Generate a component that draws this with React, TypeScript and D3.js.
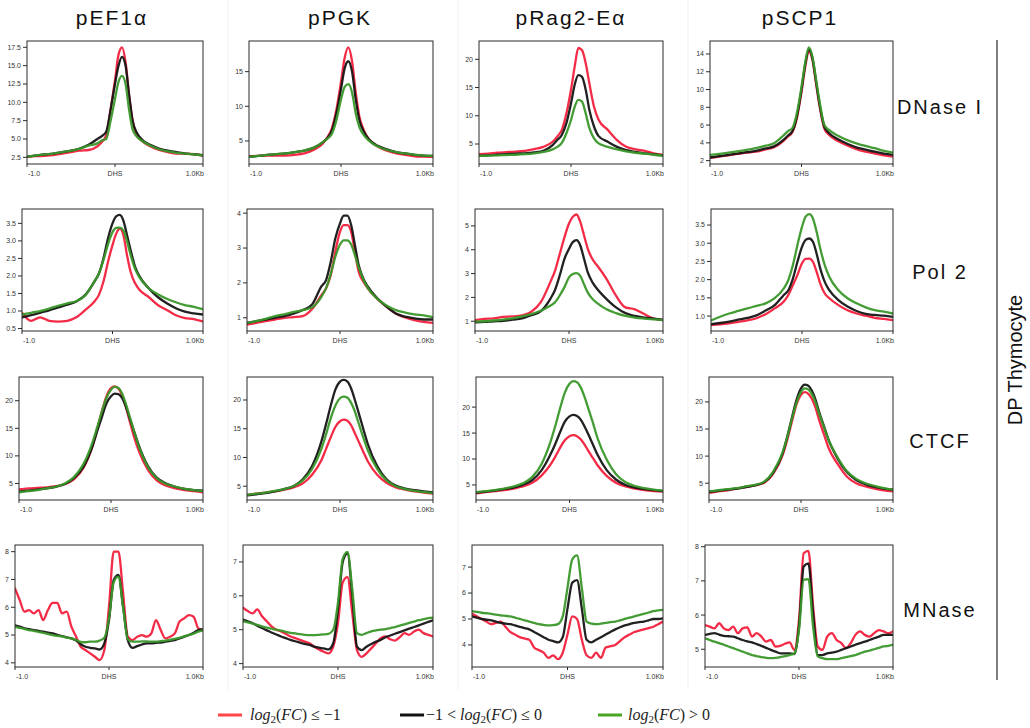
import React from 'react';
import * as d3 from 'd3';

// ---------- labels ----------
const PROMOTERS = ['pEF1α', 'pPGK', 'pRag2-Eα', 'pSCP1'];
const MARKS = ['DNase I', 'Pol 2', 'CTCF', 'MNase'];
const SIDE_LABEL = 'DP Thymocyte';
const X_TICKS = [-1, 0, 1];
const X_TICK_LABELS = ['-1.0', 'DHS', '1.0Kb'];

// ---------- x grids (kb from DHS) ----------
const XS = [-1.0, -0.9, -0.8, -0.7, -0.6, -0.5, -0.4, -0.3, -0.2, -0.15, -0.1, -0.05, 0.0, 0.04, 0.08, 0.12, 0.16, 0.2, 0.25, 0.3, 0.4, 0.5, 0.6, 0.7, 0.8, 0.9, 1.0];
const XM = [-1.0, -0.95, -0.9, -0.85, -0.8, -0.75, -0.7, -0.65, -0.6, -0.55, -0.5, -0.45, -0.4, -0.35, -0.3, -0.25, -0.2, -0.15, -0.1, -0.05, 0.0, 0.05, 0.1, 0.15, 0.2, 0.25, 0.3, 0.35, 0.4, 0.45, 0.5, 0.55, 0.6, 0.65, 0.7, 0.75, 0.8, 0.85, 0.9, 0.95, 1.0];

// ---------- DNase I ----------
const dnase_pEF1a_red = [2.55, 2.65, 2.7, 2.8, 3.0, 3.2, 3.4, 3.5, 4.0, 4.6, 5.5, 9, 13, 16.5, 17.5, 15.5, 11, 7.5, 5.5, 4.8, 4.0, 3.5, 3.2, 3.0, 3.0, 2.95, 2.7];
const dnase_pEF1a_black = [2.6, 2.75, 2.9, 3.0, 3.2, 3.4, 3.7, 4.2, 5.0, 5.4, 6.0, 9.0, 12.5, 15.0, 16.2, 15.0, 11.0, 7.5, 5.8, 5.0, 4.2, 3.7, 3.4, 3.2, 3.0, 2.9, 2.8];
const dnase_pEF1a_green = [2.6, 2.75, 2.9, 3.0, 3.2, 3.4, 3.7, 4.1, 4.4, 4.8, 5.0, 7.5, 10.5, 12.8, 13.6, 12.5, 9.0, 6.3, 5.3, 4.8, 4.1, 3.6, 3.3, 3.1, 3.0, 2.9, 2.75];

const dnase_pPGK_red = [2.8, 2.85, 2.9, 2.9, 2.9, 3.0, 3.2, 3.7, 4.6, 5.5, 6.8, 9.5, 13.5, 17.0, 18.5, 16.5, 12.0, 8.5, 6.5, 5.3, 4.2, 3.6, 3.2, 3.0, 2.8, 2.75, 2.7];
const dnase_pPGK_black = [2.7, 2.85, 3.0, 3.1, 3.2, 3.4, 3.6, 4.0, 4.8, 5.4, 6.5, 9.0, 12.5, 15.5, 16.5, 15.0, 11.0, 8.0, 6.3, 5.3, 4.3, 3.8, 3.4, 3.2, 3.0, 2.9, 2.85];
const dnase_pPGK_green = [2.7, 2.85, 3.0, 3.1, 3.2, 3.4, 3.6, 4.0, 4.8, 5.3, 6.0, 8.0, 11.0, 12.8, 13.2, 12.0, 9.0, 7.0, 5.8, 5.1, 4.2, 3.7, 3.4, 3.2, 3.0, 2.9, 2.85];

const dnase_pRag2_red = [3.2, 3.3, 3.45, 3.55, 3.65, 3.8, 4.1, 4.5, 5.4, 6.3, 7.5, 10.4, 14.6, 18.7, 22.0, 21.6, 19.3, 15.7, 11.6, 9.3, 7.5, 5.7, 4.5, 4.05, 3.8, 3.35, 3.05];
const dnase_pRag2_black = [2.9, 3.0, 3.1, 3.2, 3.3, 3.35, 3.5, 3.8, 4.8, 5.7, 6.6, 8.7, 12.2, 15.5, 17.2, 16.9, 14.6, 11.0, 8.1, 6.4, 5.4, 4.5, 3.9, 3.6, 3.35, 3.15, 3.0];
const dnase_pRag2_green = [2.9, 2.95, 3.0, 3.05, 3.1, 3.2, 3.35, 3.6, 4.05, 4.5, 5.2, 6.9, 9.25, 11.6, 12.8, 12.5, 10.4, 7.8, 6.0, 5.1, 4.5, 4.05, 3.7, 3.45, 3.3, 3.1, 2.95];

const dnase_pSCP1_red = [2.3, 2.45, 2.6, 2.75, 2.9, 3.0, 3.25, 3.5, 4.2, 4.7, 5.2, 6.8, 9.7, 12.5, 14.3, 13.3, 10.6, 8.0, 5.6, 4.9, 4.2, 3.7, 3.3, 3.0, 2.8, 2.6, 2.45];
const dnase_pSCP1_black = [2.35, 2.5, 2.65, 2.8, 2.95, 3.1, 3.35, 3.6, 4.3, 4.8, 5.3, 7.0, 10.0, 12.8, 14.5, 13.5, 10.8, 8.2, 5.8, 5.1, 4.4, 3.9, 3.5, 3.25, 3.0, 2.8, 2.65];
const dnase_pSCP1_green = [2.64, 2.75, 2.9, 3.05, 3.2, 3.4, 3.65, 3.95, 4.8, 5.3, 5.65, 7.35, 10.3, 13.0, 14.75, 13.7, 11.1, 8.5, 6.0, 5.45, 4.8, 4.3, 3.95, 3.65, 3.4, 3.1, 2.9];

// ---------- Pol 2 ----------
const pol2_pEF1a_red = [0.95, 0.72, 0.82, 0.72, 0.7, 0.72, 0.82, 1.03, 1.27, 1.46, 1.84, 2.4, 2.88, 3.2, 3.35, 3.17, 2.6, 2.12, 1.79, 1.6, 1.4, 1.17, 1.03, 0.88, 0.8, 0.77, 0.7];
const pol2_pEF1a_black = [0.82, 0.88, 0.95, 1.02, 1.1, 1.18, 1.27, 1.46, 1.84, 2.07, 2.5, 3.07, 3.5, 3.7, 3.74, 3.58, 3.17, 2.74, 2.26, 1.98, 1.65, 1.4, 1.22, 1.08, 0.98, 0.93, 0.9];
const pol2_pEF1a_green = [0.9, 0.95, 1.0, 1.07, 1.15, 1.22, 1.28, 1.45, 1.85, 2.07, 2.45, 2.9, 3.25, 3.37, 3.38, 3.3, 3.0, 2.6, 2.2, 1.95, 1.65, 1.48, 1.35, 1.25, 1.17, 1.12, 1.05];

const pol2_pPGK_red = [0.8, 0.85, 0.9, 0.95, 1.0, 1.02, 1.05, 1.25, 1.65, 1.84, 2.22, 2.9, 3.47, 3.66, 3.66, 3.47, 2.9, 2.33, 2.04, 1.84, 1.55, 1.32, 1.12, 1.01, 0.93, 0.88, 0.85];
const pol2_pPGK_black = [0.85, 0.9, 0.95, 1.0, 1.05, 1.12, 1.22, 1.38, 1.9, 2.08, 2.6, 3.28, 3.71, 3.93, 3.93, 3.66, 3.09, 2.52, 2.13, 1.89, 1.56, 1.32, 1.12, 1.03, 0.98, 0.95, 0.95];
const pol2_pPGK_green = [0.85, 0.9, 0.97, 1.05, 1.1, 1.17, 1.22, 1.3, 1.6, 1.85, 2.25, 2.75, 3.1, 3.22, 3.22, 3.1, 2.8, 2.45, 2.1, 1.85, 1.55, 1.35, 1.22, 1.15, 1.1, 1.07, 1.02];

const pol2_pRag2_red = [1.05, 1.1, 1.12, 1.18, 1.2, 1.25, 1.4, 1.8, 2.63, 3.1, 3.8, 4.5, 5.1, 5.38, 5.48, 5.17, 4.6, 4.04, 3.6, 3.34, 2.77, 2.07, 1.58, 1.5, 1.3, 1.11, 1.06];
const pol2_pRag2_black = [0.95, 0.97, 1.0, 1.02, 1.07, 1.12, 1.25, 1.42, 1.93, 2.3, 2.9, 3.6, 4.04, 4.32, 4.4, 4.18, 3.62, 3.05, 2.63, 2.35, 1.93, 1.58, 1.34, 1.22, 1.15, 1.11, 1.05];
const pol2_pRag2_green = [0.98, 1.0, 1.03, 1.07, 1.12, 1.2, 1.3, 1.44, 1.65, 1.79, 2.07, 2.42, 2.84, 2.98, 3.02, 2.9, 2.55, 2.2, 1.93, 1.76, 1.5, 1.34, 1.22, 1.15, 1.11, 1.08, 1.05];

const pol2_pSCP1_red = [0.75, 0.77, 0.8, 0.84, 0.88, 0.94, 1.05, 1.21, 1.4, 1.58, 1.85, 2.13, 2.45, 2.57, 2.58, 2.49, 2.22, 1.9, 1.62, 1.49, 1.3, 1.16, 1.07, 1.01, 0.95, 0.92, 0.89];
const pol2_pSCP1_black = [0.78, 0.81, 0.85, 0.9, 0.95, 1.02, 1.15, 1.3, 1.58, 1.71, 2.03, 2.49, 2.9, 3.09, 3.13, 3.04, 2.72, 2.31, 1.94, 1.71, 1.44, 1.26, 1.14, 1.06, 1.03, 1.01, 0.98];
const pol2_pSCP1_green = [0.88, 0.98, 1.07, 1.14, 1.21, 1.28, 1.35, 1.49, 1.76, 1.99, 2.4, 2.95, 3.45, 3.73, 3.8, 3.68, 3.32, 2.86, 2.4, 2.08, 1.71, 1.49, 1.35, 1.24, 1.16, 1.12, 1.07];

// ---------- CTCF ----------
const ctcf_pEF1a_red = [3.9, 4.1, 4.2, 4.3, 4.5, 4.9, 5.8, 7.8, 11.8, 14.8, 18, 20.8, 22.3, 22.6, 22.2, 21, 19, 16.5, 13.5, 11, 7.5, 5.5, 4.6, 4.1, 3.8, 3.6, 3.4];
const ctcf_pEF1a_black = [3.5, 3.7, 3.9, 4.1, 4.4, 4.9, 6.0, 8.0, 11.8, 14.5, 17, 19.5, 20.8, 21.3, 21.2, 20.5, 19, 17, 14.5, 12, 8.2, 6.0, 5.0, 4.4, 4.0, 3.8, 3.7];
const ctcf_pEF1a_green = [3.4, 3.6, 3.8, 4.1, 4.4, 5.0, 6.2, 8.5, 12.5, 15.2, 18, 20.5, 22, 22.5, 22.3, 21.3, 19.5, 17.3, 14.5, 11.8, 8.0, 5.9, 4.9, 4.4, 4.0, 3.8, 3.6];

const ctcf_pPGK_red = [3.5, 3.7, 3.9, 4.1, 4.4, 4.8, 5.5, 7.0, 9.5, 11.5, 13.5, 15.3, 16.3, 16.6, 16.4, 15.6, 14.2, 12.8, 11, 9.3, 7.0, 5.6, 4.8, 4.4, 4.1, 3.9, 3.7];
const ctcf_pPGK_black = [3.4, 3.6, 3.8, 4.1, 4.5, 5.0, 6.2, 8.5, 12.8, 15.8, 19, 21.8, 23.2, 23.5, 23.2, 22, 20, 17.8, 15, 12.3, 8.5, 6.2, 5.1, 4.6, 4.3, 4.1, 3.9];
const ctcf_pPGK_green = [3.5, 3.7, 3.9, 4.2, 4.5, 5.0, 6.0, 8.0, 11.5, 14, 16.8, 19, 20.3, 20.6, 20.4, 19.5, 18, 16, 13.5, 11.2, 8.0, 6.0, 5.0, 4.5, 4.2, 4.0, 3.8];

const ctcf_pRag2_red = [3.4, 3.6, 3.8, 4.0, 4.3, 4.7, 5.4, 6.8, 9.0, 10.5, 12.2, 13.6, 14.4, 14.6, 14.4, 13.8, 12.8, 11.6, 10.2, 8.8, 6.7, 5.4, 4.7, 4.3, 4.0, 3.8, 3.7];
const ctcf_pRag2_black = [3.5, 3.7, 3.9, 4.2, 4.5, 5.0, 5.9, 7.8, 11, 13, 15.2, 17.2, 18.2, 18.5, 18.3, 17.6, 16.3, 14.8, 12.8, 10.8, 7.8, 6.0, 5.0, 4.5, 4.2, 4.0, 3.8];
const ctcf_pRag2_green = [3.6, 3.8, 4.0, 4.3, 4.7, 5.3, 6.5, 9, 13.5, 16.5, 19.8, 22.8, 24.5, 25, 24.8, 23.8, 22, 19.8, 17, 14, 9.8, 7.0, 5.5, 4.8, 4.4, 4.1, 3.9];

const ctcf_pSCP1_red = [3.2, 3.5, 3.7, 4.0, 4.3, 4.6, 5.1, 6.8, 10.2, 13, 16.3, 19.5, 21.3, 21.8, 21.5, 20.5, 18.8, 16.5, 14, 11.5, 8.5, 6.2, 5.0, 4.4, 4.0, 3.7, 3.5];
const ctcf_pSCP1_black = [3.4, 3.6, 3.8, 4.0, 4.3, 4.6, 5.2, 7.0, 10.5, 13.5, 17, 20.3, 22.5, 23.2, 23.0, 22, 20.3, 18, 15.5, 13, 9.5, 7.0, 5.6, 4.8, 4.3, 4.0, 3.8];
const ctcf_pSCP1_green = [3.5, 3.7, 3.9, 4.1, 4.4, 4.7, 5.3, 7.2, 10.7, 13.5, 16.8, 19.8, 21.8, 22.5, 22.3, 21.4, 19.8, 17.7, 15.3, 13, 9.7, 7.2, 5.8, 5.0, 4.5, 4.1, 3.8];

// ---------- MNase ----------
const mnase_pEF1a_red = [6.68, 6.26, 5.84, 5.9, 5.78, 5.9, 5.54, 5.9, 6.16, 6.16, 5.78, 5.84, 5.3, 4.94, 4.58, 4.46, 4.34, 4.22, 4.1, 4.46, 6.02, 8.0, 8.0, 6.5, 4.94, 4.82, 4.94, 5.0, 4.94, 5.06, 5.54, 5.18, 4.88, 4.94, 5.06, 5.48, 5.6, 5.72, 5.66, 5.24, 5.18];
const mnase_pEF1a_black = [5.35, 5.3, 5.24, 5.21, 5.18, 5.15, 5.12, 5.09, 5.06, 5.01, 4.96, 4.92, 4.88, 4.8, 4.67, 4.58, 4.54, 4.52, 4.48, 4.7, 5.54, 6.98, 7.16, 6.02, 4.82, 4.54, 4.6, 4.66, 4.7, 4.7, 4.72, 4.73, 4.76, 4.79, 4.82, 4.88, 4.94, 5.0, 5.08, 5.18, 5.2];
const mnase_pEF1a_green = [5.3, 5.26, 5.22, 5.18, 5.15, 5.11, 5.08, 5.04, 5.0, 4.97, 4.95, 4.91, 4.88, 4.82, 4.75, 4.74, 4.76, 4.76, 4.8, 4.9, 5.6, 6.9, 7.1, 6.0, 4.85, 4.76, 4.76, 4.77, 4.77, 4.76, 4.76, 4.78, 4.8, 4.83, 4.86, 4.9, 4.95, 5.0, 5.05, 5.12, 5.17];

const mnase_pPGK_red = [5.65, 5.55, 5.48, 5.6, 5.4, 5.25, 5.1, 5.0, 4.95, 4.88, 4.8, 4.75, 4.7, 4.65, 4.6, 4.5, 4.42, 4.35, 4.3, 4.5, 5.2, 6.4, 6.55, 5.5, 4.4, 4.2, 4.3, 4.45, 4.6, 4.75, 4.8, 4.72, 4.68, 4.78, 4.9, 4.85, 4.95, 5.0, 4.9, 4.85, 4.8];
const mnase_pPGK_black = [5.3, 5.25, 5.2, 5.12, 5.05, 4.98, 4.92, 4.86, 4.8, 4.75, 4.7, 4.66, 4.62, 4.58, 4.55, 4.5, 4.47, 4.45, 4.42, 4.6, 5.6, 7.0, 7.25, 6.0, 4.5, 4.4, 4.5, 4.58, 4.65, 4.7, 4.78, 4.83, 4.88, 4.93, 4.98, 5.03, 5.08, 5.13, 5.18, 5.23, 5.28];
const mnase_pPGK_green = [5.25, 5.22, 5.18, 5.14, 5.1, 5.06, 5.03, 5.0, 4.97, 4.94, 4.91, 4.89, 4.87, 4.85, 4.84, 4.84, 4.85, 4.86, 4.88, 5.0, 5.8, 7.1, 7.3, 6.2, 4.9, 4.85, 4.9, 4.95, 4.98, 5.0, 5.02, 5.05, 5.08, 5.12, 5.16, 5.2, 5.24, 5.28, 5.31, 5.34, 5.36];

const mnase_pRag2_red = [5.2, 5.1, 5.0, 4.9, 4.8, 4.85, 4.9, 4.7, 4.5, 4.4, 4.3, 4.25, 4.2, 3.9, 3.8, 3.7, 3.5, 3.6, 3.45, 3.7, 4.4, 5.1, 5.0, 4.2, 3.6, 3.5, 3.7, 3.5, 3.9, 3.95, 4.0, 4.15, 4.3, 4.4, 4.5, 4.55, 4.6, 4.65, 4.7, 4.8, 4.9];
const mnase_pRag2_black = [5.1, 5.05, 5.0, 4.97, 4.95, 4.9, 4.85, 4.82, 4.8, 4.75, 4.7, 4.65, 4.6, 4.5, 4.4, 4.3, 4.2, 4.15, 4.1, 4.3, 5.4, 6.4, 6.5, 5.4, 4.2, 4.1, 4.2, 4.3, 4.4, 4.5, 4.6, 4.68, 4.75, 4.8, 4.85, 4.88, 4.9, 4.95, 5.0, 5.0, 5.02];
const mnase_pRag2_green = [5.3, 5.27, 5.24, 5.22, 5.2, 5.17, 5.14, 5.12, 5.1, 5.05, 5.0, 4.95, 4.9, 4.85, 4.8, 4.77, 4.75, 4.76, 4.8, 5.1, 6.2, 7.3, 7.45, 6.2, 4.9, 4.82, 4.8, 4.82, 4.85, 4.88, 4.9, 4.95, 5.0, 5.05, 5.1, 5.15, 5.2, 5.25, 5.3, 5.33, 5.35];

const mnase_pSCP1_red = [5.71, 5.66, 5.61, 5.76, 5.61, 5.56, 5.66, 5.47, 5.61, 5.64, 5.37, 5.47, 5.37, 5.22, 5.27, 5.08, 5.1, 5.16, 5.2, 4.98, 5.86, 7.81, 7.88, 6.25, 5.08, 4.98, 5.37, 5.47, 5.27, 5.18, 5.03, 5.18, 5.42, 5.52, 5.42, 5.37, 5.47, 5.56, 5.52, 5.47, 5.52];
const mnase_pSCP1_black = [5.42, 5.45, 5.47, 5.43, 5.39, 5.38, 5.37, 5.32, 5.27, 5.23, 5.2, 5.15, 5.1, 5.04, 4.98, 4.93, 4.88, 4.88, 4.88, 4.86, 5.66, 7.42, 7.51, 6.05, 4.83, 4.83, 4.88, 4.9, 4.93, 4.98, 5.03, 5.08, 5.13, 5.18, 5.22, 5.27, 5.32, 5.37, 5.42, 5.42, 5.42];
const mnase_pSCP1_green = [5.32, 5.27, 5.22, 5.18, 5.13, 5.08, 5.03, 4.98, 4.93, 4.88, 4.83, 4.8, 4.77, 4.75, 4.74, 4.75, 4.77, 4.8, 4.83, 4.88, 5.56, 7.03, 7.05, 5.66, 4.79, 4.74, 4.71, 4.71, 4.71, 4.74, 4.77, 4.8, 4.83, 4.88, 4.93, 4.96, 5.0, 5.04, 5.08, 5.1, 5.13];

// ---------- y axes ----------
const Y_DOMAINS = [
  [[1.59, 18.36], [1.68, 19.42], [1.46, 23.24], [1.62, 15.46]],
  [[0.43, 3.91], [0.62, 4.12], [0.59, 5.71], [0.59, 3.94]],
  [[2.0, 24.3], [2.6, 24.0], [2.1, 25.8], [1.9, 24.6]],
  [[3.85, 8.24], [3.9, 7.5], [3.15, 7.85], [4.48, 8.05]],
];
const Y_TICKS = [
  [[2.5, 5, 7.5, 10, 12.5, 15, 17.5], [5, 10, 15], [5, 10, 15, 20], [2, 4, 6, 8, 10, 12, 14]],
  [[0.5, 1, 1.5, 2, 2.5, 3, 3.5], [1, 2, 3, 4], [1, 2, 3, 4, 5], [1, 1.5, 2, 2.5, 3, 3.5]],
  [[5, 10, 15, 20], [5, 10, 15, 20], [5, 10, 15, 20], [5, 10, 15, 20]],
  [[4, 5, 6, 7, 8], [4, 5, 6, 7], [4, 5, 6, 7], [5, 6, 7, 8]],
];
const Y_FORMAT = [
  ['.1f', 'd', 'd', 'd'],
  ['.1f', 'd', 'd', '.1f'],
  ['d', 'd', 'd', 'd'],
  ['d', 'd', 'd', 'd'],
];

const SERIES = [
  [
    [dnase_pEF1a_red, dnase_pEF1a_black, dnase_pEF1a_green],
    [dnase_pPGK_red, dnase_pPGK_black, dnase_pPGK_green],
    [dnase_pRag2_red, dnase_pRag2_black, dnase_pRag2_green],
    [dnase_pSCP1_red, dnase_pSCP1_black, dnase_pSCP1_green],
  ],
  [
    [pol2_pEF1a_red, pol2_pEF1a_black, pol2_pEF1a_green],
    [pol2_pPGK_red, pol2_pPGK_black, pol2_pPGK_green],
    [pol2_pRag2_red, pol2_pRag2_black, pol2_pRag2_green],
    [pol2_pSCP1_red, pol2_pSCP1_black, pol2_pSCP1_green],
  ],
  [
    [ctcf_pEF1a_red, ctcf_pEF1a_black, ctcf_pEF1a_green],
    [ctcf_pPGK_red, ctcf_pPGK_black, ctcf_pPGK_green],
    [ctcf_pRag2_red, ctcf_pRag2_black, ctcf_pRag2_green],
    [ctcf_pSCP1_red, ctcf_pSCP1_black, ctcf_pSCP1_green],
  ],
  [
    [mnase_pEF1a_red, mnase_pEF1a_black, mnase_pEF1a_green],
    [mnase_pPGK_red, mnase_pPGK_black, mnase_pPGK_green],
    [mnase_pRag2_red, mnase_pRag2_black, mnase_pRag2_green],
    [mnase_pSCP1_red, mnase_pSCP1_black, mnase_pSCP1_green],
  ],
];
const ROW_X = [XS, XS, XS, XM];

// ---------- styles / layout ----------
const LINE_COLORS = ['#f2203c', '#151515', '#3a972a'];
const LEGEND_COLORS = ['#ff4545', '#111111', '#4aa521'];
const COL_RIGHT = [203, 433, 663, 893];
const PANEL_LEFT = [
  [27, 249, 479, 710],
  [22, 247, 475, 711],
  [19, 247, 476, 709],
  [15, 243, 472, 705],
];
const ROW_TOP = [41, 209, 377, 545];
const ROW_BOTTOM = [164, 331, 500, 667];
const TITLE_X = [112, 340, 571, 800];
const ROW_LABEL_Y = [114, 279, 448, 617];
const SEPARATORS_X = [228, 458, 688];

const TICK_FONT = 'Liberation Sans, Arial, sans-serif';

function Panel({ r, c }: { r: number; c: number }) {
  const left = PANEL_LEFT[r][c];
  const right = COL_RIGHT[c];
  const top = ROW_TOP[r];
  const bottom = ROW_BOTTOM[r];
  const x = d3.scaleLinear().domain([-1, 1]).range([left, right]);
  const y = d3.scaleLinear().domain(Y_DOMAINS[r][c]).range([bottom, top]);
  const xs = ROW_X[r];
  const fmt = d3.format(Y_FORMAT[r][c]);
  const clipId = `clip-${r}-${c}`;
  const line = d3
    .line<number>()
    .defined((d) => d != null && !isNaN(d))
    .x((_, i) => x(xs[i]))
    .y((d) => y(d))
    .curve(d3.curveMonotoneX);
  return (
    <g>
      <defs>
        <clipPath id={clipId}>
          <rect x={left} y={top} width={right - left} height={bottom - top} />
        </clipPath>
      </defs>
      <g clipPath={`url(#${clipId})`}>
        {SERIES[r][c].map((vals, k) => (
          <path
            key={k}
            d={line(vals.slice(0, xs.length)) || ''}
            fill="none"
            stroke={LINE_COLORS[k]}
            strokeWidth={2.3}
            strokeLinejoin="round"
            strokeLinecap="round"
            opacity={0.95}
          />
        ))}
      </g>
      <rect x={left} y={top} width={right - left} height={bottom - top} fill="none" stroke="#2a2a2a" strokeWidth={1} />
      {Y_TICKS[r][c].map((t) => (
        <g key={t}>
          <line x1={left - 4} x2={left} y1={y(t)} y2={y(t)} stroke="#2a2a2a" strokeWidth={1} />
          <text
            x={left - 6}
            y={y(t)}
            dy="0.35em"
            textAnchor="end"
            fontSize={7}
            fontFamily={TICK_FONT}
            fill="#333"
          >
            {fmt(t)}
          </text>
        </g>
      ))}
      {X_TICKS.map((t, i) => (
        <g key={t}>
          <line x1={x(t)} x2={x(t)} y1={bottom} y2={bottom + 3} stroke="#2a2a2a" strokeWidth={1} />
          <text
            x={i === 0 ? x(t) + 1 : i === 2 ? x(t) + 1 : x(t)}
            y={bottom + 12}
            textAnchor={i === 0 ? 'start' : i === 2 ? 'end' : 'middle'}
            fontSize={7}
            fontFamily={TICK_FONT}
            fill="#333"
          >
            {X_TICK_LABELS[i]}
          </text>
        </g>
      ))}
    </g>
  );
}

function Legend() {
  const items = [
    { x1: 218, x2: 242, tx: 250 },
    { x1: 400, x2: 424, tx: 426 },
    { x1: 598, x2: 622, tx: 628 },
  ];
  const y = 715;
  const serif = 'Liberation Serif, Times New Roman, serif';
  return (
    <g>
      {items.map((it, k) => (
        <line key={k} x1={it.x1} x2={it.x2} y1={y} y2={y} stroke={LEGEND_COLORS[k]} strokeWidth={3} />
      ))}
      <text x={items[0].tx} y={y + 5} fontFamily={serif} fontSize={16} fill="#222">
        <tspan fontStyle="italic">log</tspan>
        <tspan fontSize={11} dy={3}>2</tspan>
        <tspan dy={-3}>(</tspan>
        <tspan fontStyle="italic">FC</tspan>
        <tspan>) ≤ −1</tspan>
      </text>
      <text x={items[1].tx} y={y + 5} fontFamily={serif} fontSize={16} fill="#222">
        <tspan>−1 &lt; </tspan>
        <tspan fontStyle="italic">log</tspan>
        <tspan fontSize={11} dy={3}>2</tspan>
        <tspan dy={-3}>(</tspan>
        <tspan fontStyle="italic">FC</tspan>
        <tspan>) ≤ 0</tspan>
      </text>
      <text x={items[2].tx} y={y + 5} fontFamily={serif} fontSize={16} fill="#222">
        <tspan fontStyle="italic">log</tspan>
        <tspan fontSize={11} dy={3}>2</tspan>
        <tspan dy={-3}>(</tspan>
        <tspan fontStyle="italic">FC</tspan>
        <tspan>) &gt; 0</tspan>
      </text>
    </g>
  );
}

export default function App() {
  const sans = 'Liberation Sans, Arial, sans-serif';
  return (
    <svg
      width={1030}
      height={728}
      viewBox="0 0 1030 728"
      style={{ position: 'absolute', left: 0, top: 0, background: '#fff' }}
    >
      <rect x={0} y={0} width={1030} height={728} fill="#fff" />
      {SEPARATORS_X.map((sx) => (
        <line key={sx} x1={sx} x2={sx} y1={0} y2={690} stroke="#f1f1f1" strokeWidth={1} />
      ))}
      {PROMOTERS.map((p, c) => (
        <text
          key={p}
          x={TITLE_X[c]}
          y={25}
          textAnchor="middle"
          fontFamily={sans}
          fontSize={21}
          letterSpacing={2}
          fill="#111"
        >
          {p}
        </text>
      ))}
      {MARKS.map((m, r) => (
        <text
          key={m}
          x={940}
          y={ROW_LABEL_Y[r]}
          textAnchor="middle"
          fontFamily={sans}
          fontSize={20}
          letterSpacing={2}
          fill="#111"
        >
          {m}
        </text>
      ))}
      <line x1={997} x2={997} y1={40} y2={680} stroke="#555" strokeWidth={1.5} />
      <text
        transform="translate(1022,360) rotate(-90)"
        textAnchor="middle"
        fontFamily={sans}
        fontSize={20}
        fill="#111"
      >
        {SIDE_LABEL}
      </text>
      {SERIES.map((row, r) => row.map((_, c) => <Panel key={`${r}-${c}`} r={r} c={c} />))}
      <Legend />
    </svg>
  );
}
